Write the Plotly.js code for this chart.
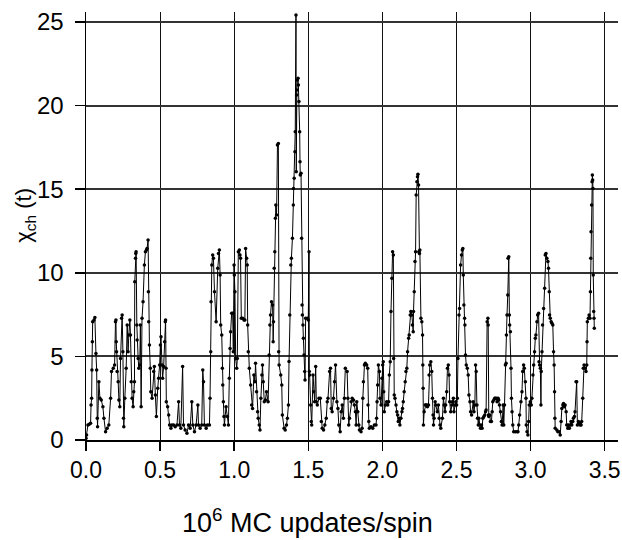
<!DOCTYPE html>
<html>
<head>
<meta charset="utf-8">
<script src="https://cdn.plot.ly/plotly-3.0.1.min.js"></script>
<style>html,body{margin:0;padding:0;background:#fff;}#chart{width:622px;height:540px;}</style>
</head>
<body>
<div id="chart"></div>
<script>
// Time in 10^6 MC updates/spin, chi_ch(t) values, in segments
const timeA = [0.000,0.004,0.013,0.022,0.031,0.034,0.038,0.040,0.043,0.045,0.054,0.060,0.067,0.072,0.076,0.078,0.087,0.094,0.103,0.114,0.121,0.132,0.143,0.154,0.166,0.172,0.184,0.193,0.199,0.202,0.204,0.206,0.210,0.217,0.222,0.228,0.233,0.240,0.244,0.249,0.253,0.255,0.262,0.271,0.278,0.284,0.289,0.296,0.300,0.305,0.311,0.318,0.322,0.327,0.329,0.334,0.336,0.338,0.343,0.345,0.352,0.356,0.363,0.367,0.372,0.378,0.385,0.394,0.401,0.408,0.412,0.419,0.421,0.423,0.428,0.434,0.437,0.446,0.457,0.461,0.468,0.475,0.484,0.490,0.497,0.502,0.506,0.513,0.517,0.524,0.531,0.535,0.537,0.540,0.542,0.551,0.558,0.564,0.573,0.580,0.591,0.602,0.614,0.625,0.631,0.640,0.652,0.658,0.669,0.681,0.692,0.703,0.714,0.721,0.732,0.743,0.755,0.759,0.770,0.781,0.788,0.793,0.799,0.811,0.820,0.833,0.837,0.842,0.844,0.849,0.855,0.860];
const chiA = [0.10,0.30,0.90,0.94,1.00,2.09,2.49,4.19,5.88,7.08,7.18,7.32,5.18,4.19,1.30,0.80,3.49,2.49,2.39,1.99,1.30,0.50,0.70,0.90,2.49,4.09,4.29,4.49,7.08,7.18,5.88,5.28,4.09,3.49,2.39,1.99,4.88,7.28,7.48,5.28,1.30,0.80,2.49,4.29,6.88,5.28,6.28,7.18,6.28,3.49,2.49,1.99,2.89,3.49,9.47,10.87,11.16,11.26,6.88,5.98,4.88,4.29,4.49,6.88,1.99,7.28,8.27,10.47,11.26,11.36,11.46,11.96,8.87,7.08,5.68,4.29,2.89,2.49,4.09,4.39,2.69,1.40,3.09,3.69,4.49,5.68,6.18,4.49,3.69,4.39,5.88,7.08,7.18,4.29,2.29,1.99,1.50,0.90,0.70,0.90,0.90,0.80,0.90,2.29,0.90,0.70,4.39,0.90,0.60,0.40,0.90,0.70,2.29,0.90,0.50,0.90,2.09,0.90,0.70,0.90,4.19,3.49,0.90,0.70,0.90,0.90,2.49,5.28,8.27,10.47,11.06,10.87];

const timeB = [0.867,0.878,0.889,0.894,0.900,0.905,0.909,0.916,0.920,0.923,0.927,0.931,0.934,0.945,0.954,0.961,0.967,0.972,0.976,0.983,0.990,0.994,0.999,1.001,1.005,1.010,1.017,1.021,1.028,1.035,1.039,1.043,1.048,1.057,1.066,1.072,1.077,1.084,1.088,1.091,1.095,1.102,1.111,1.118,1.124,1.133,1.140,1.144,1.151,1.158,1.162,1.169,1.174,1.180,1.187,1.191,1.196,1.203,1.211,1.218,1.229,1.236,1.241,1.245,1.252,1.259,1.263,1.265,1.270,1.274,1.278,1.281,1.286,1.292,1.298];
const chiB = [8.87,7.08,10.27,11.16,11.36,9.87,6.88,6.28,4.29,3.29,2.29,1.40,0.90,1.99,1.40,0.90,3.69,5.48,6.48,7.58,7.58,5.28,10.47,9.87,8.87,4.88,4.29,4.88,11.26,11.36,11.06,10.87,7.28,7.28,7.18,7.18,11.46,10.87,10.47,6.88,5.28,4.29,3.29,2.09,1.89,3.89,3.49,4.59,2.89,1.69,1.30,0.90,0.60,2.49,3.89,4.49,3.49,2.29,2.39,2.89,2.29,5.08,6.88,7.48,8.27,8.07,5.88,7.08,10.27,11.26,13.26,14.06,13.46,17.64,17.74];

const timeC = [1.300,1.303,1.314,1.321,1.325,1.337,1.344,1.353,1.359,1.366,1.370,1.375,1.382,1.386,1.393,1.399,1.400,1.405,1.410,1.412,1.417,1.419,1.421,1.423,1.426,1.431,1.433,1.437,1.442,1.444,1.446,1.451,1.455,1.458,1.460,1.464,1.467,1.471,1.476,1.478,1.482,1.494,1.500,1.505,1.507,1.509,1.516,1.520,1.523];
const chiC = [5.28,4.49,3.89,3.29,1.50,0.70,0.60,0.90,1.30,2.09,4.69,7.48,10.47,10.87,12.06,14.06,15.05,15.65,17.24,18.44,25.42,16.05,20.63,20.93,21.53,21.63,21.23,20.24,18.44,16.65,15.85,15.95,12.06,8.07,7.48,6.88,6.08,5.08,4.09,3.59,7.28,7.28,7.18,11.26,4.09,3.89,2.09,1.10,0.90];

const timeD = [1.532,1.536,1.543,1.550,1.554,1.561,1.572,1.581,1.588,1.594,1.603,1.612,1.621,1.628,1.633,1.644,1.650,1.655,1.661,1.670,1.677,1.684,1.693,1.700,1.706,1.715,1.722,1.729,1.737,1.744,1.750,1.762,1.767,1.773,1.778,1.789,1.796,1.805,1.811,1.818,1.823,1.827,1.834,1.841,1.845,1.856,1.863,1.868,1.872,1.879,1.885,1.894,1.901,1.903,1.908,1.912,1.924,1.935,1.946,1.957,1.961,1.964,1.968,1.973,1.980,1.984,1.991,1.997,2.002,2.006,2.009,2.013,2.020,2.029,2.036,2.042,2.047,2.053,2.058,2.064,2.069,2.074,2.076,2.080,2.085,2.092,2.098,2.103,2.107,2.114,2.118,2.125,2.132,2.136,2.141,2.147,2.154,2.159,2.165,2.170,2.177,2.181,2.188,2.192,2.199,2.203,2.208,2.210,2.215,2.220,2.224,2.228,2.233,2.237,2.240,2.244,2.246,2.250,2.253,2.260,2.266,2.271,2.273,2.275,2.277];
const chiD = [3.89,2.89,2.29,4.39,2.29,2.09,2.49,2.49,1.10,0.70,0.60,0.90,1.30,2.29,2.49,4.09,4.29,1.89,1.69,2.49,3.49,4.49,2.29,1.89,0.90,0.50,1.69,2.09,1.30,2.49,4.29,4.09,2.49,0.90,1.30,2.29,2.49,2.39,2.09,1.69,0.90,2.29,1.69,0.90,0.60,0.50,0.70,2.49,3.49,4.49,4.59,4.49,4.29,2.09,1.10,0.70,0.80,0.70,0.90,0.90,1.30,2.29,3.29,4.49,4.09,2.49,2.09,3.69,4.49,4.68,2.89,1.69,2.09,2.29,2.09,2.29,3.89,4.68,7.68,9.67,11.26,11.06,4.88,2.69,2.49,2.09,1.69,1.50,1.10,1.30,0.90,1.30,1.69,1.89,2.29,2.89,3.49,4.09,4.29,5.28,6.08,6.28,7.48,7.68,7.48,6.88,6.48,7.68,8.87,10.67,11.26,14.65,15.45,15.75,15.89,15.25,11.26,11.16,11.36,7.28,7.08,6.28,4.49,3.09,0.90];

const timeE = [2.282,2.289,2.293,2.300,2.304,2.311,2.315,2.320,2.327,2.333,2.338,2.342,2.345,2.349,2.356,2.360,2.371,2.378,2.383,2.389,2.394,2.405,2.412,2.416,2.423,2.427,2.434,2.439,2.445,2.450,2.454,2.461,2.468,2.472,2.479,2.483,2.490,2.495,2.501,2.506,2.510,2.517,2.521,2.528,2.534,2.539,2.543,2.546,2.550,2.555,2.557,2.561,2.566,2.573,2.579,2.584,2.591,2.595,2.602];
const chiE = [1.69,2.09,2.09,2.09,1.99,2.09,3.89,4.49,4.68,4.09,2.49,1.50,0.90,1.30,2.29,2.09,1.69,2.09,1.30,0.90,0.70,1.30,2.49,2.09,1.69,2.09,2.89,4.29,4.49,3.89,2.29,1.69,2.09,2.29,2.49,1.69,2.09,2.29,2.09,2.49,4.88,7.48,7.87,10.47,11.06,11.36,11.46,9.87,8.07,7.28,6.88,5.08,4.49,4.29,3.89,2.69,2.29,1.69,1.50];

const timeF = [2.613,2.618,2.624,2.629,2.633,2.638,2.642,2.647,2.651,2.656,2.662,2.669,2.673,2.678,2.685,2.691,2.696,2.700,2.707,2.712,2.714,2.716,2.718,2.725,2.729,2.736,2.741,2.745,2.752,2.758,2.763,2.770,2.774,2.781,2.785,2.790,2.797,2.803,2.808,2.815,2.819,2.824,2.830,2.835,2.837,2.841,2.846,2.848,2.853,2.857,2.859,2.864,2.868,2.871,2.875,2.880,2.886,2.898,2.909,2.915,2.920,2.926,2.935,2.942,2.947,2.953,2.958,2.965,2.969,2.971,2.976,2.982,2.987,2.991,2.998,3.005,3.009,3.016,3.021,3.027,3.032,3.036,3.043,3.048,3.054,3.057,3.061,3.066,3.070,3.072,3.077,3.081,3.088,3.095,3.099,3.104,3.110,3.117,3.121,3.126,3.128,3.133,3.139,3.144,3.150,3.155,3.159,3.162,3.164,3.166,3.177,3.184,3.193,3.200,3.206,3.211,3.218,3.222,3.229,3.233,3.240,3.244,3.251,3.255,3.262,3.267,3.273,3.278,3.285,3.289,3.296,3.300,3.307,3.311,3.316,3.323,3.330,3.334,3.341,3.345,3.352,3.356,3.361,3.368,3.374,3.379,3.381,3.383,3.390,3.395,3.401,3.404,3.406,3.408,3.412,3.415,3.417,3.419,3.421,3.423,3.426,3.428,3.430];
const chiF = [2.29,1.69,2.09,4.49,4.09,2.09,1.30,0.90,1.30,0.90,0.70,0.90,0.70,1.30,1.40,1.50,1.69,1.79,7.08,7.28,6.88,1.50,1.40,1.50,1.10,1.10,1.69,2.29,2.39,2.49,2.49,2.49,2.29,2.49,2.39,2.09,1.69,1.10,0.90,2.09,0.90,2.09,4.49,4.59,6.28,7.48,8.67,10.87,10.96,7.48,6.88,6.48,4.29,2.49,1.69,0.90,0.50,0.50,0.50,0.50,0.90,1.50,2.29,2.89,4.09,4.49,4.29,3.49,2.49,0.90,0.50,0.30,1.10,2.09,2.29,2.09,2.49,3.89,4.49,5.28,6.08,6.28,7.08,7.48,7.58,4.68,4.49,4.29,2.09,4.09,5.28,6.88,7.87,9.07,11.06,11.16,10.87,10.67,10.27,8.87,7.48,7.28,7.08,6.98,6.88,5.28,4.49,2.89,1.30,0.70,0.60,0.50,0.50,0.30,1.10,1.89,2.09,2.19,1.99,2.09,1.69,0.90,0.70,0.90,0.70,0.90,1.10,0.90,1.10,1.30,1.40,1.69,3.49,3.49,0.90,1.10,1.00,0.90,0.90,1.10,2.49,4.29,4.49,4.29,4.09,4.49,5.88,7.08,7.28,7.48,7.28,8.87,10.87,12.46,14.06,15.45,15.85,15.55,15.05,9.87,7.68,7.28,6.68];

const xTicks = [0, 0.5, 1.0, 1.5, 2.0, 2.5, 3.0, 3.5];
const xTickText = ['0.0', '0.5', '1.0', '1.5', '2.0', '2.5', '3.0', '3.5'];
const yTicks = [0, 5, 10, 15, 20, 25];
const xTitle = '10<sup>6</sup> MC updates/spin';
const yTitle = '\u03c7<sub>ch</sub> (t)';

const time = [].concat(timeA, timeB, timeC, timeD, timeE, timeF);
const chi = [].concat(chiA, chiB, chiC, chiD, chiE, chiF);

const FONT = '"Liberation Sans", Arial, Helvetica, sans-serif';

const trace = {
  x: time, y: chi, type: 'scatter', mode: 'lines+markers',
  line: {color: '#000', width: 1},
  marker: {color: '#000', size: 3.5},
  hoverinfo: 'skip'
};

const layout = {
  width: 622, height: 540,
  margin: {l: 86, r: 4, t: 12, b: 100, pad: 0},
  paper_bgcolor: '#fff', plot_bgcolor: '#fff',
  showlegend: false,
  font: {family: FONT, color: '#000'},
  xaxis: {
    range: [0, 3.59], tickvals: xTicks, ticktext: xTickText,
    showgrid: true, gridcolor: '#111', gridwidth: 1,
    zeroline: false, showline: true, linecolor: '#000', linewidth: 1.5,
    ticks: 'outside', ticklen: 9, tickwidth: 1.5, tickcolor: '#000',
    ticklabeloverflow: 'allow',
    tickfont: {family: FONT, size: 23, color: '#000'}
  },
  yaxis: {
    range: [0, 25.6], tickvals: yTicks,
    showgrid: true, gridcolor: '#333', gridwidth: 2,
    zeroline: false, showline: true, linecolor: '#000', linewidth: 1.5,
    ticks: 'outside', ticklen: 10, tickwidth: 1.5, tickcolor: '#000',
    ticklabelstandoff: 6, ticklabeloverflow: 'allow',
    tickfont: {family: FONT, size: 24, color: '#000'}
  },
  annotations: [
    {text: xTitle, xref: 'paper', yref: 'paper', x: 0.417, y: -0.19,
     xanchor: 'center', yanchor: 'middle', showarrow: false,
     font: {family: FONT, size: 27, color: '#000'}},
    {text: yTitle, xref: 'paper', yref: 'paper', x: -0.115, y: 0.526,
     xanchor: 'center', yanchor: 'middle', showarrow: false, textangle: -90,
     font: {family: FONT, size: 22, color: '#000'}}
  ]
};

Plotly.newPlot('chart', [trace], layout, {displayModeBar: false, staticPlot: true});
</script>
</body>
</html>
